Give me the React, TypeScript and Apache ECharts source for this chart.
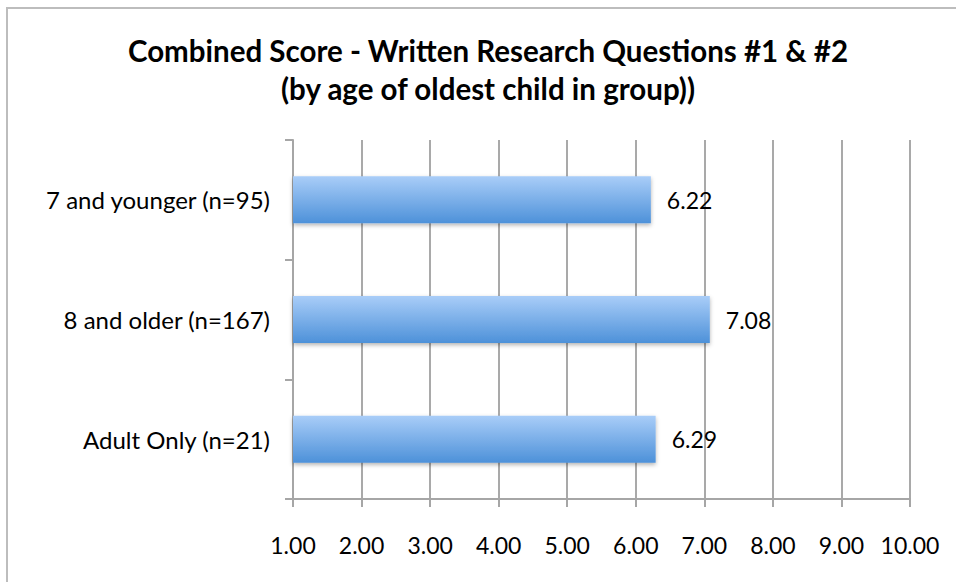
import React, { useEffect, useRef } from "react";
import * as echarts from "echarts";

const titleLines = [
  "Combined Score - Written Research Questions #1 & #2",
  "(by age of oldest child in group))",
];
const categories = ["7 and younger (n=95)", "8 and older (n=167)", "Adult Only (n=21)"];
const scores = [6.22, 7.08, 6.29];
const axisMin = 1;
const axisMax = 10;
const axisStep = 1;

export default function App() {
  const ref = useRef<HTMLDivElement>(null);
  useEffect(() => {
    if (!ref.current) return;
    const chart = echarts.init(ref.current, null, { renderer: "svg" });
    const font = "Lato";
    chart.setOption({
      animation: false,
      backgroundColor: "#fff",
      title: {
        text: titleLines.join("\n"),
        left: 483,
        textAlign: "center",
        top: 26,
        textStyle: {
          fontFamily: font,
          fontWeight: "bold",
          fontSize: 29.5,
          lineHeight: 38,
          color: "#000",
        },
      },
      graphic: [
        {
          type: "rect",
          shape: { x: 7, y: 8, width: 1000, height: 700 },
          style: { fill: "none", stroke: "#bdbdbd", lineWidth: 2 },
          silent: true,
          z: -1,
        },
      ],
      grid: { left: 293, right: 46, top: 140, bottom: 83 },
      xAxis: {
        type: "value",
        min: axisMin,
        max: axisMax,
        interval: axisStep,
        axisLine: { show: true, lineStyle: { color: "#a6a6a6", width: 2 } },
        axisTick: { show: true, length: 8, lineStyle: { color: "#a6a6a6", width: 2 } },
        splitLine: { show: true, lineStyle: { color: "#8c8c8c", width: 1.5 } },
        axisLabel: {
          color: "#000",
          fontFamily: font,
          fontSize: 23,
          margin: 34,
          formatter: (v: number) => v.toFixed(2),
        },
      },
      yAxis: {
        type: "category",
        inverse: true,
        data: categories,
        axisLine: { show: true, lineStyle: { color: "#a6a6a6", width: 2 } },
        axisTick: { show: true, length: 8, lineStyle: { color: "#a6a6a6", width: 2 } },
        axisLabel: {
          color: "#000",
          fontFamily: font,
          fontSize: 24,
          margin: 23,
        },
      },
      series: [
        {
          type: "bar",
          data: scores,
          barWidth: 47,
          itemStyle: {
            color: new echarts.graphic.LinearGradient(0, 0, 0, 1, [
              { offset: 0, color: "#a9cdf8" },
              { offset: 1, color: "#4d91d9" },
            ]),
            shadowColor: "rgba(0,0,0,0.3)",
            shadowBlur: 4,
            shadowOffsetY: 2,
          },
          label: {
            show: true,
            position: "right",
            distance: 16,
            color: "#000",
            fontFamily: font,
            fontSize: 23,
            formatter: (p: any) => Number(p.value).toFixed(2),
          },
        },
      ],
    });
    return () => chart.dispose();
  }, []);
  return (
    <div
      ref={ref}
      style={{ position: "fixed", left: 0, top: 0, width: 956, height: 582 }}
    />
  );
}
